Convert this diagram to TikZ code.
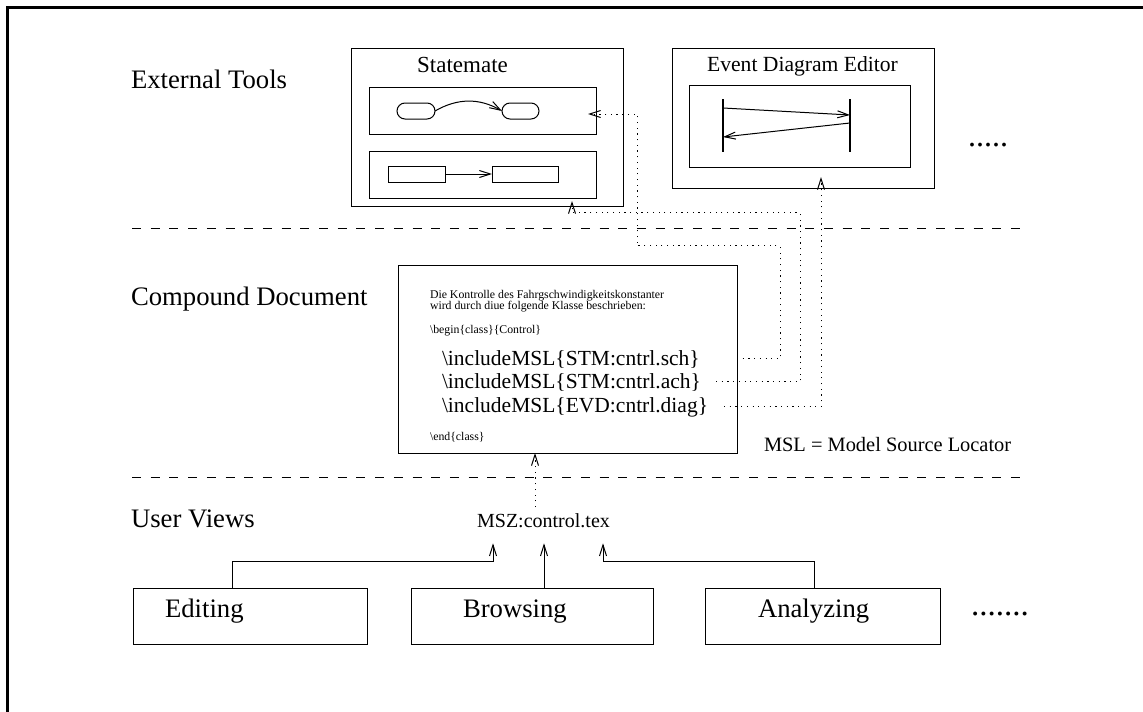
\documentclass[tikz,border=0pt]{standalone}
\usepackage{fontspec}
\setmainfont{Liberation Serif}
\usetikzlibrary{arrows.meta,calc}

\begin{document}
\begin{tikzpicture}[x=1pt,y=1pt,line width=1pt,
  box/.style={draw,inner sep=0pt,outer sep=0pt},
  txt/.style={inner sep=0pt,outer sep=0pt},
  big/.style={txt,font=\fontsize{26.7}{32}\selectfont},
  small/.style={txt,anchor=base west,font=\fontsize{11.8}{14}\selectfont},
  incl/.style={txt,anchor=base west,font=\fontsize{21.5}{25}\selectfont},
  tip/.style={-{Straight Barb[length=11pt,width=7pt]}},
  dotline/.style={tip,dash pattern=on 1.2pt off 4.5pt},
  divider/.style={dash pattern=on 9pt off 9.7pt},
]
\useasboundingbox (0,0) rectangle (1143,-712);
\fill[white] (0,0) rectangle (1143,-712);
\draw[line width=3pt] (1143,-7.5) -- (7.5,-7.5) -- (7.5,-712);

% tier labels
\node[big,anchor=base west] (ext) at (131,-88) {External Tools};
\node[big,anchor=base west] (cmp) at (131,-305) {Compound Document};
\node[big,anchor=base west] (usr) at (131,-527) {User Views};

% tier dividers
\draw[divider] (132,-228) -- (1027,-228);
\draw[divider] (132,-477) -- (1027,-477);

% Statemate
\node[box,minimum width=272pt,minimum height=158pt] (stm) at (487,-127) {};
\node[txt,anchor=base,font=\fontsize{23}{27}\selectfont] (stmt) at (462.5,-72) {Statemate};
\node[box,minimum width=227pt,minimum height=47pt] (stm1) at (482.5,-110.5) {};
\node[box,minimum width=227pt,minimum height=47pt] (stm2) at (482.5,-174.5) {};
\node[box,rounded corners=8pt,minimum width=38pt,minimum height=16pt] (s1) at (416,-111) {};
\node[box,rounded corners=8pt,minimum width=37pt,minimum height=16pt] (s2) at (520.5,-111) {};
\draw[tip] (s1.east) to[bend left=30] (s2.west);
\node[box,minimum width=57pt,minimum height=16pt] (r1) at (416.5,-174) {};
\node[box,minimum width=66pt,minimum height=16pt] (r2) at (525,-174) {};
\draw[tip] (r1) -- (r2);

% Event Diagram Editor
\node[box,minimum width=262pt,minimum height=140pt] (ede) at (803,-118) {};
\node[txt,anchor=base,font=\fontsize{21.6}{26}\selectfont] (edet) at (802.5,-71) {Event Diagram Editor};
\node[box,minimum width=221pt,minimum height=82pt] (ede1) at (799.5,-126) {};
\coordinate (l1a) at (723,-99);
\coordinate (l1b) at (723,-152);
\coordinate (l2a) at (850,-99);
\coordinate (l2b) at (850,-152);
\draw[line width=1.6pt] (l1a) -- (l1b);
\draw[line width=1.6pt] (l2a) -- (l2b);
\draw[tip] ($(l1a)+(0,-9)$) -- ($(l2a)+(0,-16)$);
\draw[tip] ($(l2a)+(0,-24)$) -- ($(l1a)+(0,-38)$);

\node[txt,anchor=base west,font=\fontsize{32}{36}\selectfont] (more1) at (968,-146) {.....};

% Compound document
\node[box,minimum width=339pt,minimum height=188pt] (doc) at (567.5,-359) {};
\node[small] (d1) at (430,-298) {Die Kontrolle des Fahrgschwindigkeitskonstanter};
\node[small] (d2) at (430,-309) {wird durch diue folgende Klasse beschrieben:};
\node[small] (d3) at (430,-333) {\textbackslash begin\{class\}\{Control\}};
\node[incl] (inc1) at (442,-365) {\textbackslash includeMSL\{STM:cntrl.sch\}};
\node[incl] (inc2) at (442,-388) {\textbackslash includeMSL\{STM:cntrl.ach\}};
\node[incl] (inc3) at (442,-412) {\textbackslash includeMSL\{EVD:cntrl.diag\}};
\node[small] (d4) at (430,-440) {\textbackslash end\{class\}};

\node[txt,anchor=base west,font=\fontsize{20.4}{24}\selectfont] (msl) at (764,-451) {MSL = Model Source Locator};

% model source links
\draw[dotline] (doc.east |- inc1.east) -- ++(43,0) -- ++(0,113) -- ++(-143,0)
  |- ([xshift=-8pt,yshift=-3.5pt]stm1.east);
\draw[dotline] ($(doc.east |- inc2.east)+(-21,0)$) -- ++(84,0) -- ++(0,169)
  -| ([xshift=85pt,yshift=5pt]stm.south);
\draw[dotline] ($(doc.east |- inc3.east)+(-13,0)$) -| ([xshift=18pt,yshift=11pt]ede.south);

% User views
\node[txt,anchor=base,font=\fontsize{20}{24}\selectfont] (msz) at (543.5,-527) {MSZ:control.tex};
\draw[dotline] ([xshift=-8.5pt,yshift=6pt]msz.north) -- ([xshift=-32.5pt]doc.south);

\node[box,minimum width=234pt,minimum height=56pt] (edit) at (250,-616) {};
\node[box,minimum width=242pt,minimum height=56pt] (brow) at (532,-616) {};
\node[box,minimum width=235pt,minimum height=56pt] (anal) at (822.5,-616) {};
\node[big,anchor=base west] (editt) at (165,-617) {Editing};
\node[big,anchor=base west] (browt) at (463,-617) {Browsing};
\node[big,anchor=base west] (analt) at (758,-617) {Analyzing};
\node[txt,anchor=base west,font=\fontsize{33}{36}\selectfont] (more2) at (971,-615) {.......};

\draw[tip] ([xshift=-18pt]edit.north) -- ++(0,27) -| ([xshift=-50.5pt,yshift=-16pt]msz.south);
\draw[tip] ([xshift=12pt]brow.north) -- ([xshift=0.5pt,yshift=-16pt]msz.south);
\draw[tip] ([xshift=-8.5pt]anal.north) -- ++(0,27) -| ([xshift=59.5pt,yshift=-16pt]msz.south);
\end{tikzpicture}
\end{document}
